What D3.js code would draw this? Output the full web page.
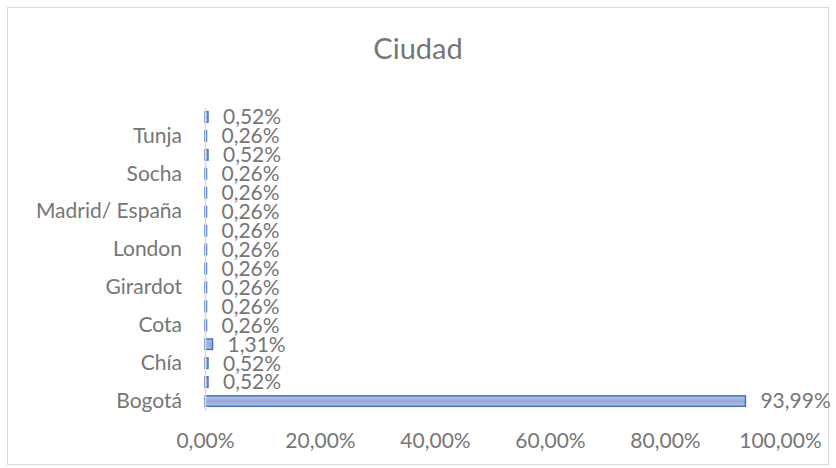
<!DOCTYPE html>
<html lang="es">
<head>
<meta charset="utf-8">
<title>Ciudad</title>
<script src="https://cdnjs.cloudflare.com/ajax/libs/d3/7.8.5/d3.min.js"></script>
<style>
  html, body { margin: 0; padding: 0; background: #fff; }
  svg text { font-family: Lato, "Open Sans", sans-serif; fill: #767676; }
</style>
</head>
<body>
<div id="chart"></div>
<script>
// data, bottom to top (only every other name is shown on the axis)
const categories = ["Bogotá", "Cajicá", "Chía", "Cogua", "Cota", "Facatativá",
  "Girardot", "Ibagué", "London", "Madrid", "Madrid/ España", "Mosquera",
  "Socha", "Sopó", "Tunja", "Zipaquirá"];
const percents = [93.99, 0.52, 0.52, 1.31, 0.26, 0.26, 0.26, 0.26,
  0.26, 0.26, 0.26, 0.26, 0.26, 0.52, 0.26, 0.52];
const xTicks = [0, 20, 40, 60, 80, 100];
const title = "Ciudad";

const W = 836, H = 468;
const plot = {left: 205, right: 780, top: 107.5, bottom: 410.5};

const svg = d3.select("#chart").append("svg")
  .attr("width", W).attr("height", H);

// outer frame
svg.append("rect")
  .attr("x", 7.5).attr("y", 7.5)
  .attr("width", 821).attr("height", 457)
  .attr("fill", "#fff").attr("stroke", "#d9d9d9");

const defs = svg.append("defs");
const grad = defs.append("linearGradient")
  .attr("id", "barFill").attr("x1", 0).attr("y1", 0).attr("x2", 0).attr("y2", 1);
grad.append("stop").attr("offset", "0%").attr("stop-color", "#b4c3e6");
grad.append("stop").attr("offset", "50%").attr("stop-color", "#94aadb");
grad.append("stop").attr("offset", "100%").attr("stop-color", "#b4c3e6");

const data = categories.map((c, i) => ({name: c, value: percents[i]}));

const x = d3.scaleLinear().domain([0, 100]).range([plot.left, plot.right]);
const y = d3.scaleBand()
  .domain(categories.slice().reverse())
  .range([plot.top, plot.bottom])
  .paddingInner(0.45).paddingOuter(0.225);

const fmt = v => d3.format(".2f")(v).replace(".", ",") + "%";

// title
svg.append("text")
  .attr("x", 418).attr("y", 59)
  .attr("text-anchor", "middle")
  .style("font-size", "29px")
  .text(title);

// bars
svg.selectAll(".bar")
  .data(data)
  .enter().append("rect")
  .attr("class", "bar")
  .attr("x", x(0))
  .attr("y", d => y(d.name))
  .attr("width", d => Math.max(x(d.value) - x(0), 1.5))
  .attr("height", y.bandwidth())
  .attr("fill", "url(#barFill)")
  .attr("stroke", "#4472c4")
  .attr("stroke-width", 1.5);

// value labels
svg.selectAll(".val")
  .data(data)
  .enter().append("text")
  .attr("class", "val")
  .attr("x", d => x(d.value) + 15)
  .attr("y", d => y(d.name) + y.bandwidth() / 2)
  .attr("dy", "0.35em")
  .style("font-size", "21px")
  .text(d => fmt(d.value));

// y axis (every other label)
const yAxis = svg.append("g")
  .attr("transform", "translate(" + plot.left + ",0)")
  .call(d3.axisLeft(y)
    .tickValues(categories.filter((c, i) => i % 2 === 0))
    .tickSize(0).tickPadding(23));
yAxis.select(".domain").attr("stroke", "#d9d9d9").attr("stroke-width", 1.5);
yAxis.selectAll("text").style("font-size", "21px").attr("fill", "#767676");

// x axis labels
const xAxis = svg.append("g")
  .attr("transform", "translate(0," + (plot.bottom + 20) + ")")
  .call(d3.axisBottom(x).tickValues(xTicks).tickSize(0)
    .tickFormat(fmt));
xAxis.select(".domain").remove();
xAxis.selectAll("text").style("font-size", "21px").attr("fill", "#767676");
</script>
</body>
</html>
